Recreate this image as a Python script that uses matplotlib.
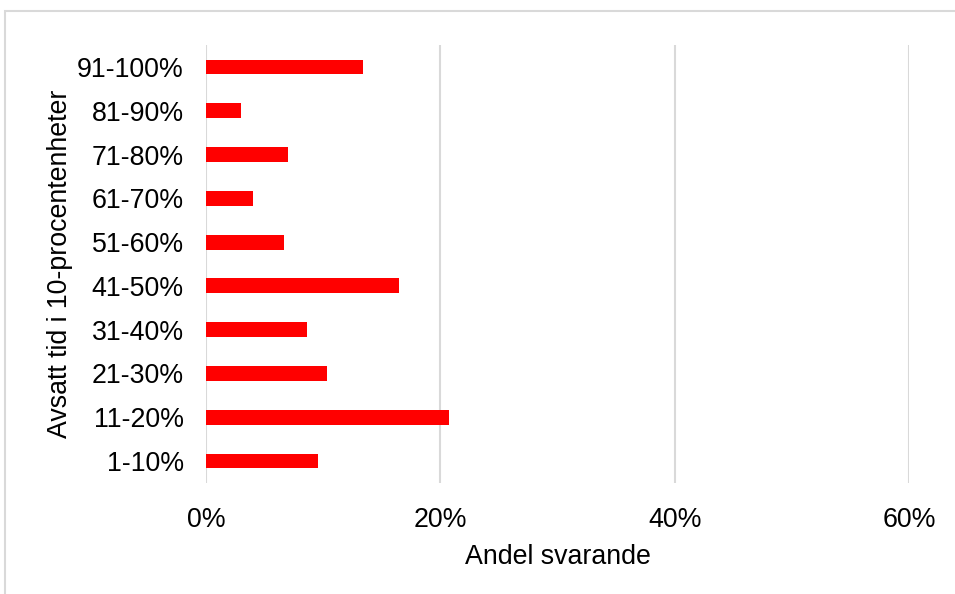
import matplotlib.pyplot as plt
import numpy as np
from matplotlib.patches import Rectangle
from matplotlib.ticker import FuncFormatter

plt.rcParams['font.family'] = ['Liberation Sans', 'DejaVu Sans']

# andel svarande per 10-procentsintervall (i procent)
categories = ['1-10%', '11-20%', '21-30%', '31-40%', '41-50%',
              '51-60%', '61-70%', '71-80%', '81-90%', '91-100%']
shares = [9.6, 20.7, 10.3, 8.6, 16.45, 6.7, 4.0, 7.0, 2.95, 13.4]
xticks = [0, 20, 40, 60]

fig = plt.figure(figsize=(9.55, 5.94), dpi=100)
ax = fig.add_axes([0.2157, 0.187, 0.9518 - 0.2157, 0.924 - 0.187])

y = np.arange(len(categories))
ax.barh(y, shares, height=0.34, color='#ff0000', zorder=3)

ax.set_xlim(0, 60)
ax.set_ylim(-0.5, len(categories) - 0.5)
ax.set_xticks(xticks)
ax.xaxis.set_major_formatter(FuncFormatter(lambda v, p: '%d%%' % v))
ax.set_yticks(y)
ax.set_yticklabels(categories)
ax.grid(axis='x', color='#d9d9d9', linewidth=1.5, zorder=0)
for s in ax.spines.values():
	s.set_visible(False)
ax.tick_params(axis='both', length=0, labelsize=19.3, colors='black')
ax.tick_params(axis='y', pad=16)
ax.tick_params(axis='x', pad=17)

ax.set_xlabel('Andel svarande', fontsize=19.3, labelpad=8)
ax.set_ylabel('Avsatt tid i 10-procentenheter', fontsize=19.3, labelpad=3)

# grey frame around chart area
fig.patches.append(Rectangle((5 / 955, -0.05), 1.1, 1 - 11 / 594 + 0.05,
	transform=fig.transFigure, fill=False, edgecolor='#d9d9d9', linewidth=1.5))

plt.savefig('out.png', dpi=100)
